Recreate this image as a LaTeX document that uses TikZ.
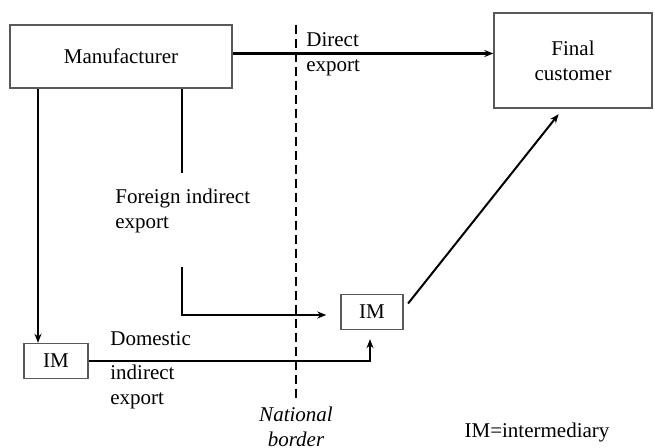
\documentclass[tikz,border=0pt]{standalone}
\usepackage{fontspec}
\setmainfont{Liberation Serif}
\usetikzlibrary{arrows.meta}
\begin{document}
\begin{tikzpicture}[x=0.5pt,y=-0.5pt,
  every node/.style={font=\fontsize{10.5}{12.5}\selectfont},
  >={Stealth[length=4.5pt,width=3.5pt]}
]

\tikzstyle{party}=[draw=black!65,line width=0.7pt,inner sep=0pt,align=center]
\tikzstyle{flow}=[line width=0.8pt]
\tikzstyle{label}=[align=left,inner sep=0pt]

\useasboundingbox (0,0) rectangle (655,448);

% firms
\node [party,minimum width=111pt,minimum height=31.5pt] (mfr) at (121,56.5) {Manufacturer};
\node [party,minimum width=79pt,minimum height=47.5pt] (cust) at (573,60.5) {Final\\customer};
\node [party,minimum width=32pt,minimum height=17.5pt] (im1) at (56,361) {IM};
\node [party,minimum width=31pt,minimum height=17.5pt] (im2) at (372,312) {IM};

% border
\coordinate (bt) at (296,25);
\coordinate (bb) at (296,398);
\draw [line width=1pt,dash pattern=on 4.5pt off 2.5pt] (bt) -- (bb);
\node [label,anchor=south,align=center,font=\fontsize{10.5}{12.5}\selectfont\itshape] (border) at (296,447) {National\\border};

% texts
\node [label,anchor=west] (direct) at (306,54.5) {Direct\\export};
\node [label,anchor=west] (foreign) at (115,211) {Foreign indirect\\export};
\node [label,anchor=west] (dom) at (110,339) {Domestic};
\node [label,anchor=west] (dom2) at (110,386.5) {indirect\\export};
\node [label] (key) at (537,432) {IM=intermediary};

% flows
\coordinate (d1) at ([yshift=1.5pt]mfr.east);
\draw [->,line width=1.3pt] (d1) -- (cust.west |- d1);
\draw [->,flow] ([xshift=-9pt]im1.north |- mfr.south) -- ([xshift=-9pt]im1.north);
\draw [line width=1.3pt] ([xshift=30.5pt]mfr.south) -- ++(0,84);
\coordinate (f1) at (182,267);
\draw [->,flow,shorten >=7pt] (f1) |- ([yshift=-1.5pt]im2.west);
\draw [->,flow,shorten >=4.5pt] (im1.east) -| ([xshift=-1pt]im2.south);
\draw [->,line width=1pt,shorten <=3.5pt,shorten >=3.5pt] ([yshift=1.5pt]im2.east) -- ([xshift=-5pt]cust.south);
\end{tikzpicture}
\end{document}
